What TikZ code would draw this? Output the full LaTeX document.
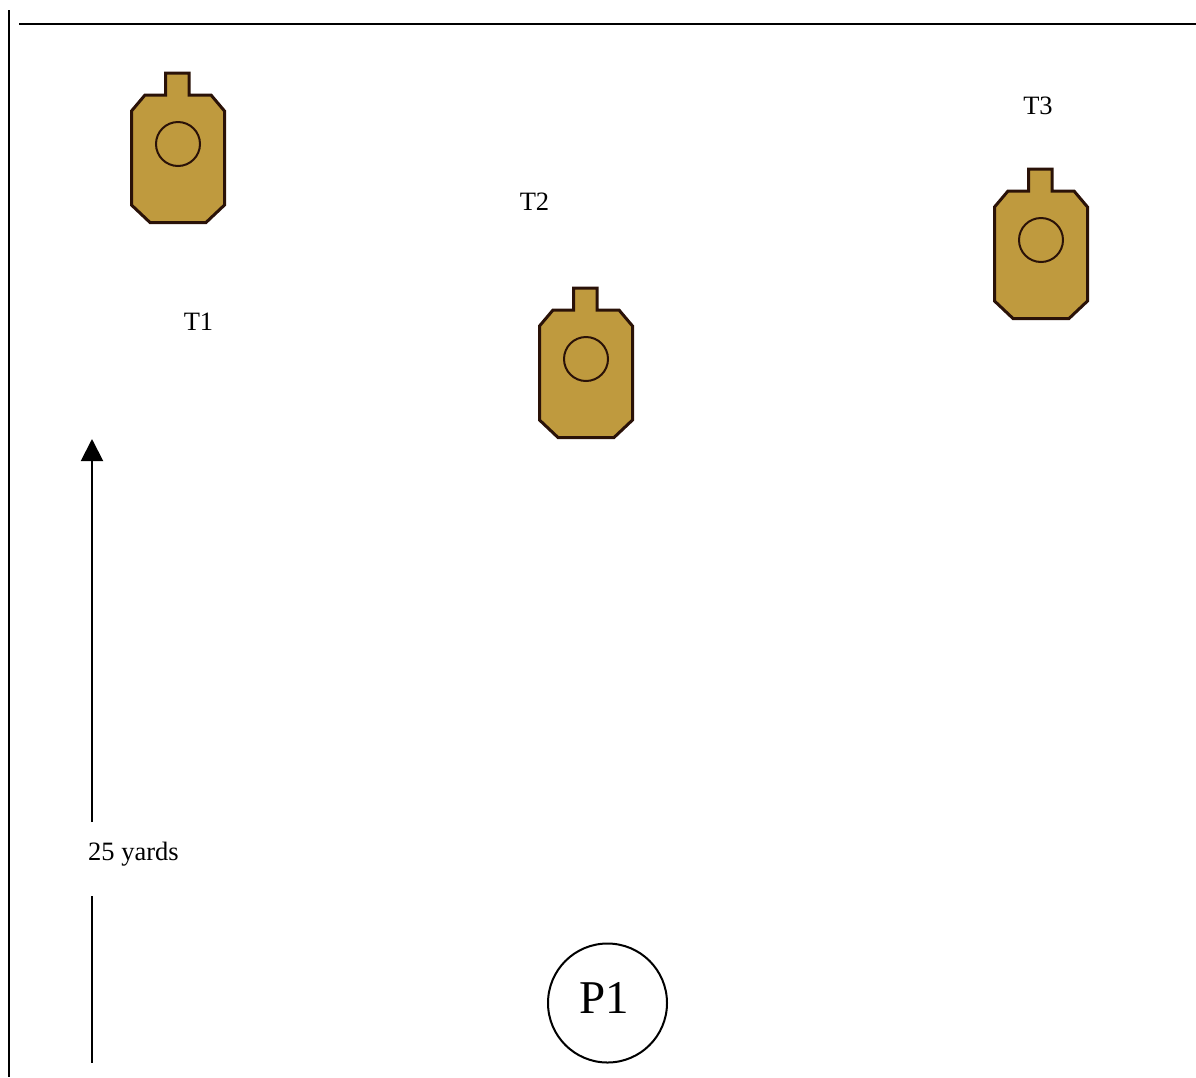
\documentclass[tikz,border=0pt]{standalone}
\usepackage{fontspec}
\setmainfont{Liberation Serif}
\usetikzlibrary{arrows.meta}
\definecolor{tgtfill}{HTML}{BF9A3E}
\definecolor{tgtline}{HTML}{2A1208}
\tikzset{
  x=1pt,y=-1pt,
  rule/.style={draw=black,line width=2pt},
  lbl/.style={inner sep=0pt,anchor=base,font=\fontsize{26.5}{30}\selectfont},
  target/.pic={
    \draw[fill=tgtfill,draw=tgtline,line width=3pt,line join=miter]
      (165.5,73)--(189,73)--(189,95)--(211,95)--(224.5,111)--(224.5,205)--(206,222.5)--(150,222.5)--(131.5,205)--(131.5,111)--(145,95)--(165.5,95)--cycle;
    \draw[draw=tgtline,line width=2pt] (178,144) circle (22);
  }
}
\begin{document}
\begin{tikzpicture}
\useasboundingbox (0,0) rectangle (1196,1077);
\coordinate (leftA) at (9,10);
\coordinate (leftB) at (9,1077);
\coordinate (topA) at (19,24.3);
\coordinate (topB) at (1196,24.3);
\draw[rule] (leftA)--(leftB);
\draw[rule] (topA)--(topB);
\pic at (0,0) {target};
\pic at (408,215) {target};
\pic at (863,96) {target};
\node[lbl] (t1) at (198.5,330) {T1};
\node[lbl] (t2) at (534.5,210) {T2};
\node[lbl] (t3) at (1038,114) {T3};
\node[lbl] (yards) at (133.5,860) {25 yards};
\coordinate (arrowTip) at (92,439);
\coordinate (arrowUp) at (92,822);
\coordinate (arrowDown) at (92,896);
\coordinate (arrowEnd) at (92,1063);
\draw[rule,-{Triangle[length=22pt,width=22pt]}] (arrowUp)--(arrowTip);
\draw[rule] (arrowDown)--(arrowEnd);
\node[circle,draw=black,line width=2pt,minimum size=119pt,inner sep=0pt,text height=30pt,text depth=10pt,font=\fontsize{47}{50}\selectfont] (p1) at (607.5,1003) {\hspace*{-7pt}P1};
\end{tikzpicture}
\end{document}
